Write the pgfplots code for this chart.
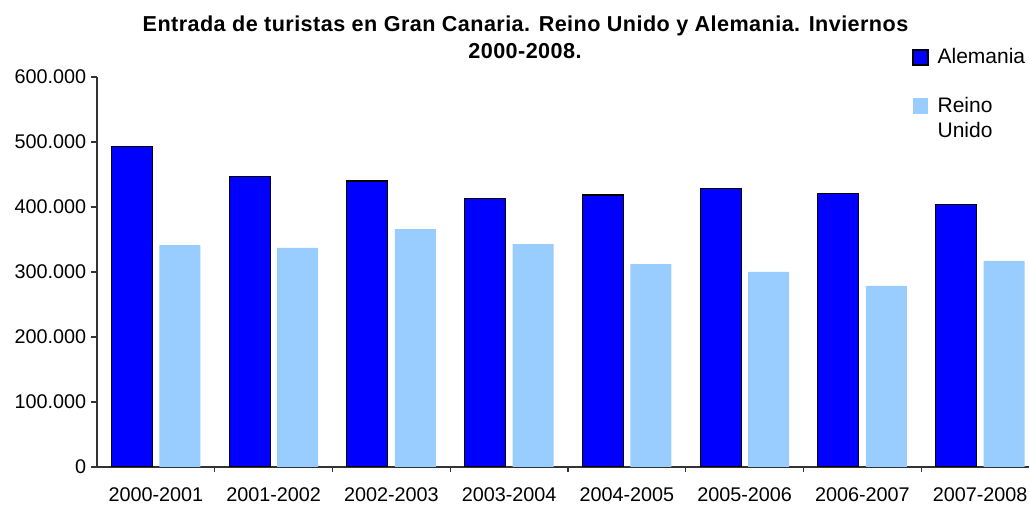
\documentclass[border=0pt]{standalone}
\usepackage{pgfplots}
\pgfplotsset{compat=1.18}
\usepackage{fontspec}
\setmainfont{Liberation Sans}
\newfontfamily\titlefont{Liberation Sans}[LetterSpace=2]
\definecolor{alem}{RGB}{0,0,255}
\definecolor{reino}{RGB}{153,204,255}
\pgfplotstableread{
x alemania reino
0 493000 341500
1 447000 337000
2 440000 366000
3 413000 343000
4 418500 312000
5 428000 300000
6 420500 278500
7 404000 317000
}\datatable
\begin{document}
\begin{tikzpicture}
\begin{axis}[
  name=ax,
  scale only axis,
  width=466pt, height=195pt,
  xmin=-0.5, xmax=7.415,
  ymin=0, ymax=600000,
  axis x line*=bottom, axis y line*=left,
  axis line style={black!80, line width=0.6pt},
  ytick={0,100000,200000,300000,400000,500000,600000},
  yticklabels={0,100.000,200.000,300.000,400.000,500.000,600.000},
  scaled y ticks=false,
  tick style={black!80, line width=0.6pt},
  tick align=outside,
  major tick length=2.75pt,
  minor tick length=2.75pt,
  xtick={0,...,7},
  xticklabels={2000-2001,2001-2002,2002-2003,2003-2004,2004-2005,2005-2006,2006-2007,2007-2008},
  x tick style={draw=none},
  minor xtick={0.5,1.5,...,6.5},
  minor x tick style={draw=black!80},
  ticklabel style={font=\fontsize{9.9}{11}\selectfont},
  yticklabel style={anchor=east, inner sep=0pt, xshift=-2.5pt},
  xticklabel style={anchor=base, inner sep=0pt, yshift=-14.5pt},
  ybar,
  bar width=20.5pt,
  legend style={draw=none, fill=none, at={(rel axis cs:0.8745,1.0744)}, anchor=north west,
     inner sep=0pt, row sep=14pt, font=\fontsize{10.5}{12.5}\selectfont,
     nodes={inner sep=0pt},
     /tikz/every odd column/.append style={column sep=4.5pt}},
  legend cell align=left,
]
\addplot[fill=alem, draw=black, line width=0.6pt, bar shift=-12pt,
  legend image code/.code={\draw[fill=alem,draw=black,line width=0.6pt] (0pt,-3.8pt) rectangle (7.5pt,3.7pt);}] table[x=x,y=alemania]{\datatable};
\addplot[fill=reino, draw=none, bar shift=12pt,
  legend image code/.code={\fill[reino] (0pt,-4.5pt) rectangle (7.7pt,3.2pt);}] table[x=x,y=reino]{\datatable};
\legend{Alemania,{\begin{tabular}[t]{@{}l@{}}Reino\\Unido\end{tabular}}}
\end{axis}
\node[font=\titlefont\bfseries\fontsize{10.8}{12}\selectfont, anchor=base] at ([shift={(214.25pt,22.6pt)}]ax.north west) {Entrada de turistas en Gran Canaria. Reino Unido y Alemania. Inviernos};
\node[font=\titlefont\bfseries\fontsize{10.8}{12}\selectfont, anchor=base] at ([shift={(214pt,9.1pt)}]ax.north west) {2000-2008.};
\pgfresetboundingbox
\path ([shift={(-48.5pt,-20pt)}]ax.south west) rectangle ([shift={(0pt,38.5pt)}]ax.north east);
\end{tikzpicture}
\end{document}
